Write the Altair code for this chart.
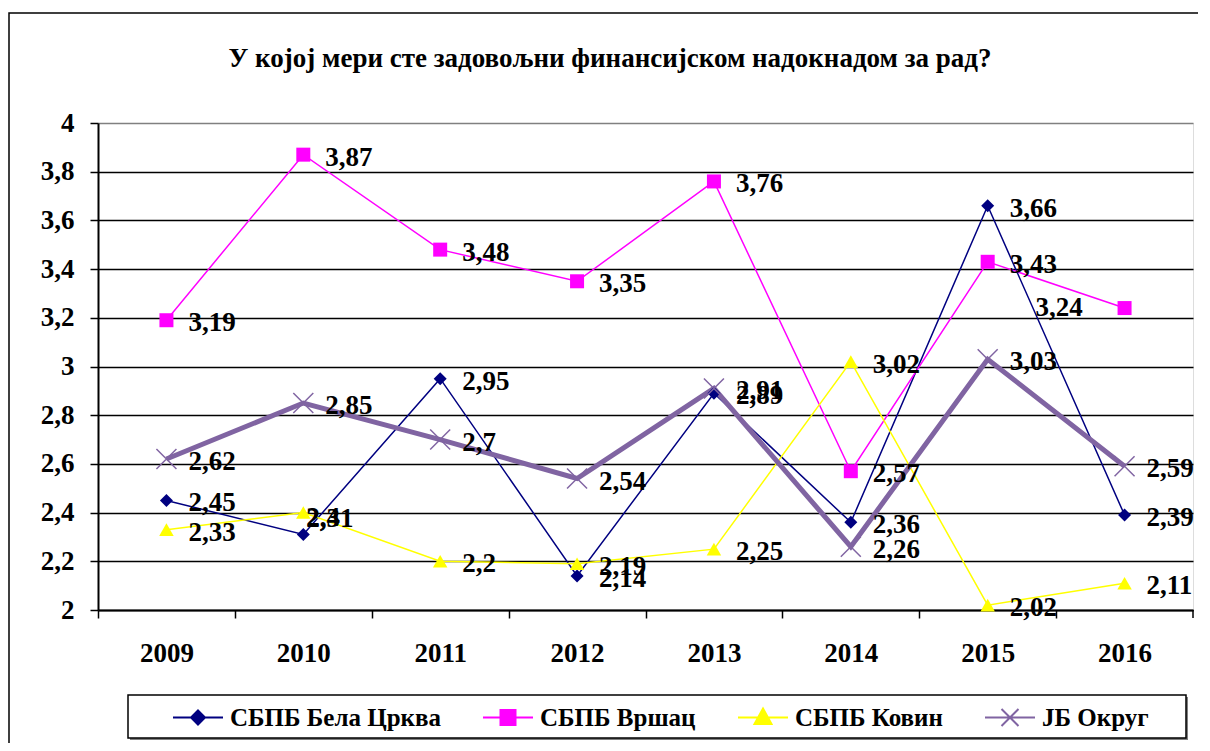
import altair as alt
import pandas as pd

# ---- data ----
years = ["2009", "2010", "2011", "2012", "2013", "2014", "2015", "2016"]
series = ["СБПБ Бела Црква", "СБПБ Вршац", "СБПБ Ковин", "ЈБ Округ"]
bela_crkva = [2.45, 2.31, 2.95, 2.14, 2.89, 2.36, 3.66, 2.39]
vrsac = [3.19, 3.87, 3.48, 3.35, 3.76, 2.57, 3.43, 3.24]
kovin = [2.33, 2.40, 2.20, 2.19, 2.25, 3.02, 2.02, 2.11]
okrug = [2.62, 2.85, 2.70, 2.54, 2.91, 2.26, 3.03, 2.59]
y_ticks = [2, 2.2, 2.4, 2.6, 2.8, 3, 3.2, 3.4, 3.6, 3.8, 4]
title_text = "У којој мери сте задовољни финансијском надокнадом за рад?"

# ---- styles ----
colors = ["#000080", "#FF00FF", "#FFFF00", "#8064A2"]
line_widths = [1.5, 1.5, 1.5, 5]
FONT = "Liberation Serif"
W, H = 1095, 487
PAD_L, PAD_T = 90, 115

rows = []
for s, vals in zip(series, [bela_crkva, vrsac, kovin, okrug]):
    for yr, v in zip(years, vals):
        rows.append({"series": s, "year": yr, "value": v,
                     "label": f"{v:g}".replace(".", ",")})
df = pd.DataFrame(rows)

x_enc = alt.X("year:O",
              scale=alt.Scale(type="point", domain=years, padding=0.5),
              axis=alt.Axis(title=None, labelAngle=0, grid=False,
                            tickOffset=-W / 16, labelOffset=W / 16,
                            tickSize=8, tickColor="black", tickWidth=1.5,
                            domainColor="black", domainWidth=2,
                            labelFont=FONT, labelFontSize=27, labelFontWeight="bold",
                            labelColor="black", labelPadding=22))
y_enc = alt.Y("value:Q",
              scale=alt.Scale(domain=[2, 4], nice=False, zero=False),
              axis=alt.Axis(title=None, values=y_ticks, format="~g",
                            labelExpr="replace(datum.label, '.', ',')",
                            grid=True, gridWidth=1.5,
                            gridColor={"condition": {"test": "datum.value >= 3.99", "value": "#808080"},
                                       "value": "black"},
                            tickSize=8, tickColor="black", tickWidth=1.5,
                            domainColor="black", domainWidth=2,
                            labelFont=FONT, labelFontSize=27, labelFontWeight="bold",
                            labelColor="black", labelPadding=16))

# legend symbols: a line segment with the series marker (unit box -1..1)
sym_paths = [
    "M-1,0L1,0M0,-0.28L0.28,0L0,0.28L-0.28,0Z",
    "M-1,0L1,0M-0.3,-0.3L0.3,-0.3L0.3,0.3L-0.3,0.3Z",
    "M-1,0L1,0M0,-0.36L0.34,0.26L-0.34,0.26Z",
    "M-1,0L1,0M-0.34,-0.34L0.34,0.34M0.34,-0.34L-0.34,0.34",
]

def make_legend():
    return alt.Legend(
        title=None, orient="none", legendX=74, legendY=568.5, direction="horizontal",
        padding=0, columnPadding=38, labelOffset=6, symbolSize=2500,
        labelFont=FONT, labelFontSize=25, labelFontWeight="bold", labelColor="black",
        labelLimit=400, symbolOpacity=1)

legend_layer = alt.Chart(df).transform_filter("false").mark_point(
    filled=True, size=2500, opacity=1).encode(
    x="year:O", y="value:Q",
    fill=alt.Fill("series:N", scale=alt.Scale(domain=series, range=colors), legend=make_legend()),
    stroke=alt.Stroke("series:N", scale=alt.Scale(domain=series, range=colors), legend=make_legend()),
    shape=alt.Shape("series:N", scale=alt.Scale(domain=series, range=sym_paths), legend=make_legend()),
    strokeWidth=alt.StrokeWidth("series:N", scale=alt.Scale(domain=series, range=[2, 2, 2, 4]),
                                legend=make_legend()),
)

line_layers = []
for i, (s, c, lw) in enumerate(zip(series, colors, line_widths)):
    enc = dict(x=x_enc, y=y_enc) if i == 0 else dict(x="year:O", y="value:Q")
    line_layers.append(alt.Chart(df).transform_filter(alt.datum.series == s)
                       .mark_line(color=c, strokeWidth=lw).encode(**enc))

point_specs = [
    dict(shape="diamond", size=170, filled=True),
    dict(shape="square", size=196, filled=True),
    dict(shape="triangle-up", size=210, filled=True),
    dict(shape="M-1,-1L1,1M1,-1L-1,1", size=400, filled=False, strokeWidth=1.5),
]
point_layers = []
for s, c, spec in zip(series, colors, point_specs):
    point_layers.append(alt.Chart(df).transform_filter(alt.datum.series == s)
                        .mark_point(color=c, opacity=1, **spec)
                        .encode(x="year:O", y="value:Q"))

# label placement (style): right of each point; a few are moved as in the reference
overrides = [
    ("СБПБ Бела Црква", "2010", 3, -16),
    ("СБПБ Ковин", "2010", 3, 5),
    ("СБПБ Вршац", "2016", -89, 0),
]
label_style = dict(align="left", baseline="middle", font=FONT, fontSize=27,
                   fontWeight="bold", color="black")
not_override = " && ".join(
    f"!(datum.series == '{s}' && datum.year == '{y}')" for s, y, _, _ in overrides)
labels = [alt.Chart(df).transform_filter(not_override).mark_text(dx=22, dy=3, **label_style)
          .encode(x="year:O", y="value:Q", text="label:N")]
for s, y, dx, dy in overrides:
    labels.append(alt.Chart(df).transform_filter(
        f"datum.series == '{s}' && datum.year == '{y}'").mark_text(dx=dx, dy=dy, **label_style)
        .encode(x="year:O", y="value:Q", text="label:N"))

one = pd.DataFrame({"k": [0]})
title_df = pd.DataFrame({"t": [title_text]})
title = alt.Chart(title_df).mark_text(
    font=FONT, fontSize=27, fontWeight="bold", color="black",
    align="center", baseline="alphabetic").encode(
    text="t:N", x=alt.value(512), y=alt.value(-56))
frame = alt.Chart(one).mark_rect(fill=None, stroke="black", strokeWidth=1.5).encode(
    x=alt.value(-89), x2=alt.value(W + 300), y=alt.value(-110), y2=alt.value(H + 400))
legend_shadow = alt.Chart(one).mark_rect(fill="#808080").encode(
    x=alt.value(32), x2=alt.value(1090), y=alt.value(574), y2=alt.value(617))
legend_box = alt.Chart(one).mark_rect(fill="white", stroke="black", strokeWidth=1.5).encode(
    x=alt.value(30), x2=alt.value(1088), y=alt.value(572), y2=alt.value(615))
end_tick = alt.Chart(one).mark_rule(color="black", strokeWidth=1.5).encode(
    x=alt.value(W), y=alt.value(H), y2=alt.value(H + 8))

chart = alt.layer(
    frame, title, legend_shadow, legend_box, *line_layers, *point_layers, *labels,
    end_tick, legend_layer
).properties(
    width=W, height=H,
    autosize="none",
    padding={"left": PAD_L, "top": PAD_T, "right": 5, "bottom": 133},
).configure_view(
    fill="#C0C0C0", stroke="#808080", strokeWidth=2
).configure(background="white")

chart.save("out.html", embed_options={"renderer": "svg", "actions": False})
